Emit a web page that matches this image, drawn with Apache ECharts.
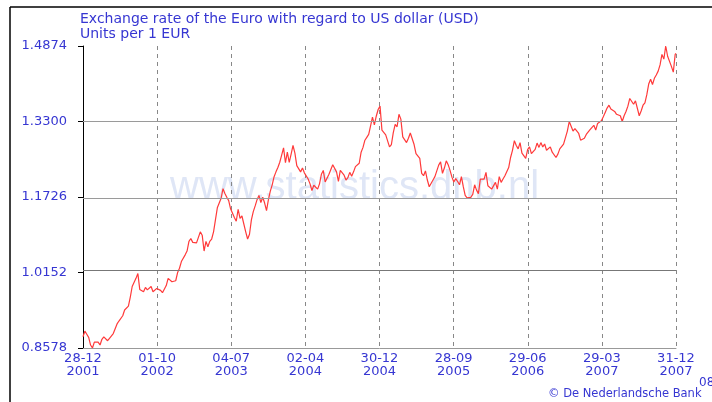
<!DOCTYPE html>
<html><head><meta charset="utf-8">
<script src="https://cdn.jsdelivr.net/npm/echarts@6/dist/echarts.min.js"></script>
<style>html,body{margin:0;padding:0;background:#fff}#c{width:712px;height:402px}</style>
</head><body><div id="c"></div>
<script>
const startDate = '2001-12-28';
const endDate = '2007-12-31';
const startValue = 0.8813;
const endValue = 1.4721;
// weekly values (Fridays) following the start date
const w2002 = [0.8931,0.8865,0.8800,0.8640,0.8578,0.8700,0.8720,0.8700,0.8640,0.8760,0.8810,0.8800,0.8730,0.8780,0.8800,0.8880,0.8980,0.9080,0.9140,0.9150,0.9250,0.9370,0.9410,0.9450,0.9640,0.9860,0.9880,1.0030,1.0130,0.9800,0.9760,0.9750,0.9840,0.9790,0.9800,0.9860,0.9750,0.9770,0.9820,0.9800,0.9780,0.9730,0.9750,0.9880,1.0030,1.0040,0.9960,0.9930,0.9980,1.0150,1.0240,1.0380];
const w2003 = [1.0380,1.0520,1.0600,1.0800,1.0860,1.0780,1.0760,1.0770,1.0800,1.1000,1.0930,1.0600,1.0800,1.0690,1.0800,1.0850,1.1000,1.1250,1.1500,1.1540,1.1700,1.1900,1.1800,1.1720,1.1650,1.1480,1.1450,1.1300,1.1220,1.1470,1.1280,1.1330,1.1300,1.1000,1.0850,1.0950,1.1250,1.1420,1.1540,1.1670,1.1760,1.1610,1.1720,1.1600,1.1440,1.1670,1.1850,1.1980,1.2150,1.2250,1.2340,1.2450];
const w2004 = [1.2600,1.2750,1.2440,1.2660,1.2450,1.2620,1.2800,1.2640,1.2380,1.2350,1.2250,1.2330,1.2230,1.2200,1.2100,1.2000,1.1860,1.1970,1.2000,1.1890,1.2000,1.2200,1.2280,1.2040,1.2080,1.2200,1.2300,1.2400,1.2380,1.2250,1.2050,1.2280,1.2300,1.2180,1.2080,1.2130,1.2240,1.2160,1.2250,1.2360,1.2320,1.2430,1.2660,1.2760,1.2910,1.2970,1.3030,1.3210,1.3390,1.3230,1.3410,1.3550,1.3621];
const w2005 = [1.3120,1.3150,1.3020,1.3040,1.2770,1.2820,1.3070,1.3240,1.3190,1.3450,1.3350,1.2980,1.2960,1.2860,1.2950,1.3060,1.2940,1.2820,1.2630,1.2590,1.2530,1.2220,1.2170,1.2270,1.2080,1.1940,1.1920,1.2080,1.2150,1.2150,1.2390,1.2460,1.2220,1.2330,1.2480,1.2400,1.2280,1.2140,1.2040,1.2110,1.2050,1.1980,1.2150,1.1940,1.1760,1.1710,1.1740,1.1720,1.1780,1.1980,1.1870,1.1797];
const w2006 = [1.2100,1.2120,1.2100,1.2240,1.1960,1.1930,1.1890,1.1910,1.2030,1.1890,1.2150,1.2030,1.2100,1.2170,1.2150,1.2340,1.2550,1.2700,1.2900,1.2800,1.2730,1.2860,1.2640,1.2630,1.2530,1.2713,1.2770,1.2630,1.2600,1.2720,1.2850,1.2760,1.2860,1.2770,1.2830,1.2700,1.2680,1.2770,1.2660,1.2620,1.2550,1.2620,1.2730,1.2750,1.2830,1.2820,1.3100,1.3300,1.3280,1.3100,1.3150,1.3170];
const w2007 = [1.3050,1.2910,1.2940,1.2950,1.3030,1.3060,1.3130,1.3170,1.3220,1.3120,1.3260,1.3300,1.3315,1.3400,1.3490,1.3580,1.3640,1.3560,1.3520,1.3510,1.3450,1.3460,1.3420,1.3300,1.3420,1.3510,1.3620,1.3780,1.3810,1.3660,1.3730,1.3740,1.3420,1.3520,1.3640,1.3690,1.3860,1.4080,1.4180,1.4070,1.4200,1.4270,1.4350,1.4480,1.4700,1.4600,1.4874,1.4660,1.4660,1.4450,1.4330,1.4700];
const xTickLabels = ['28-12\n2001','01-10\n2002','04-07\n2003','02-04\n2004','30-12\n2004','28-09\n2005','29-06\n2006','29-03\n2007','31-12\n2007'];
const yTickValues = [0.8578, 1.0152, 1.1726, 1.3300, 1.4874];

const DAY = 86400000;
const t0 = Date.parse(startDate + 'T00:00:00Z');
const tEnd = Date.parse(endDate + 'T00:00:00Z');
const spanDays = Math.round((tEnd - t0) / DAY);
const weekly = [].concat(w2002, w2003, w2004, w2005, w2006, w2007);
const data = [[0, startValue]];
weekly.forEach((v, i) => data.push([(i + 1) * 7, v]));
data.push([spanDays, endValue]);
const xInterval = spanDays / (xTickLabels.length - 1);

const blue = '#3636d2';
const font = '"DejaVu Sans", Verdana, sans-serif';
const chart = echarts.init(document.getElementById('c'), null, {renderer: 'canvas'});
chart.setOption({
  animation: false,
  backgroundColor: '#fff',
  grid: {left: 83, right: 36, top: 46, bottom: 54},
  xAxis: {
    type: 'value', min: 0, max: spanDays, interval: xInterval,
    axisLine: {show: true, lineStyle: {color: '#999', width: 1}},
    axisTick: {show: false},
    splitLine: {show: true, lineStyle: {color: '#888', width: 1, type: [4, 4]}},
    axisLabel: {
      color: blue, fontFamily: font, fontSize: 13, lineHeight: 13, margin: 4,
      formatter: v => xTickLabels[Math.round(v / xInterval)] || ''
    }
  },
  yAxis: {
    type: 'value', min: yTickValues[0], max: yTickValues[yTickValues.length - 1],
    axisLine: {show: true, lineStyle: {color: '#000', width: 1}},
    axisTick: {show: true, customValues: yTickValues, length: 5, lineStyle: {color: '#000'}},
    splitLine: {show: false},
    axisLabel: {
      customValues: yTickValues, color: blue, fontFamily: font, fontSize: 13, margin: 16,
      formatter: v => Number(v).toFixed(4)
    }
  },
  graphic: [
    {type: 'text', z: 0, left: 170, top: 168, style: {text: 'www.statistics.dnb.nl', font: '40px "Liberation Sans", Arial, sans-serif', fill: '#dfe6f6'}},
    {type: 'text', left: 80, top: 12, style: {text: 'Exchange rate of the Euro with regard to US dollar (USD)', font: '14px "DejaVu Sans", Verdana, sans-serif', fill: blue}},
    {type: 'text', left: 80, top: 27, style: {text: 'Units per 1 EUR', font: '14px "DejaVu Sans", Verdana, sans-serif', fill: blue}},
    {type: 'text', left: 548, top: 388, style: {text: '\u00a9 De Nederlandsche Bank', font: '11.5px "DejaVu Sans", Verdana, sans-serif', fill: blue}},
    {type: 'text', left: 699, top: 377, style: {text: '08-01-2008', font: '12px "DejaVu Sans", Verdana, sans-serif', fill: blue}},
    {type: 'line', shape: {x1: 10, y1: 7, x2: 712, y2: 7}, style: {stroke: '#000', lineWidth: 1.5}},
    {type: 'line', shape: {x1: 10, y1: 7, x2: 10, y2: 402}, style: {stroke: '#000', lineWidth: 1.5}}
  ],
  series: [{
    type: 'line', data: data, showSymbol: false, z: 3,
    lineStyle: {color: '#ff3a3a', width: 1.2},
    markLine: {
      silent: true, symbol: 'none', label: {show: false}, animation: false,
      lineStyle: {color: '#999', type: 'solid', width: 1},
      data: yTickValues.slice(1).map((v, i) => ({yAxis: v, lineStyle: {color: i === 0 ? '#777' : '#9a9a9a', type: 'solid', width: 1}}))
    }
  }]
});
</script></body></html>
